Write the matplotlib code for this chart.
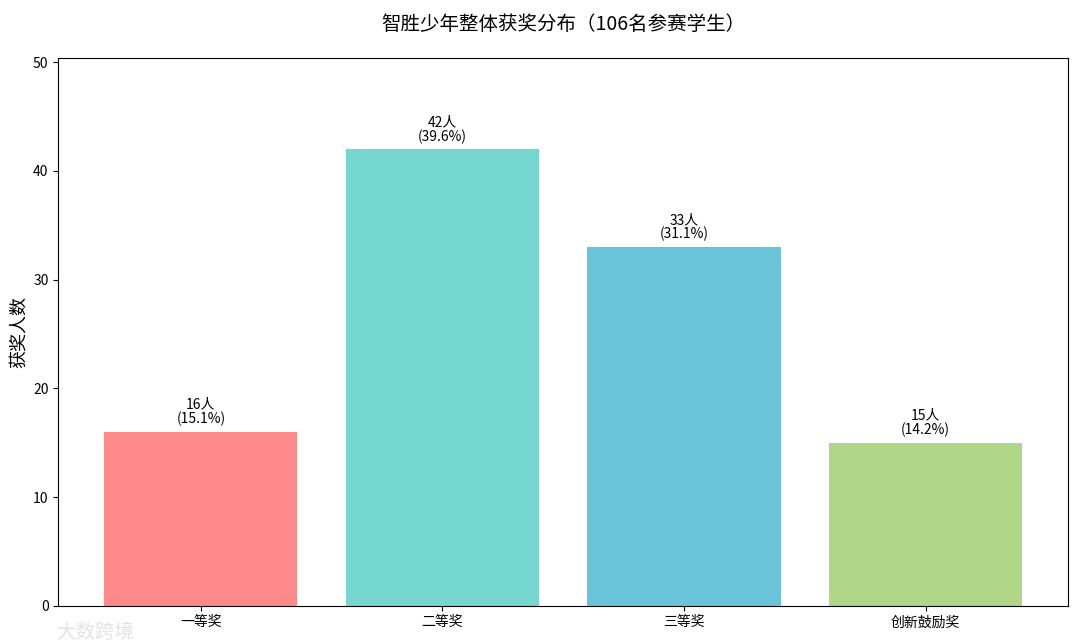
import matplotlib
matplotlib.use("Agg")
import matplotlib.pyplot as plt

plt.rcParams['font.family'] = ['Noto Sans CJK SC', 'DejaVu Sans']

categories = ['一等奖', '二等奖', '三等奖', '创新鼓励奖']
counts = [16, 42, 33, 15]
percents = [15.1, 39.6, 31.1, 14.2]
colors = ['#FF8A8A', '#76D7D0', '#6AC4D9', '#B0D687']

fig = plt.figure(figsize=(10.8, 6.43), dpi=100)
ax = fig.add_axes([0.054, 0.058, 0.935, 0.852])
bars = ax.bar(categories, counts, color=colors, width=0.8)
for b, c, p in zip(bars, counts, percents):
    ax.text(b.get_x() + b.get_width() / 2, c + 0.5, f'{c}人\n({p}%)',
            ha='center', va='bottom', fontsize=10, linespacing=1.0)
ax.set_ylim(0, 50.4)
ax.set_ylabel('获奖人数', fontsize=13)
ax.set_title('智胜少年整体获奖分布（106名参赛学生）', fontsize=14, pad=20)
ax.tick_params(labelsize=10)
fig.text(0.052, 0.008, '大数跨境', fontsize=14, color='#dddddd', alpha=0.8)
fig.savefig('out.png', dpi=100)
